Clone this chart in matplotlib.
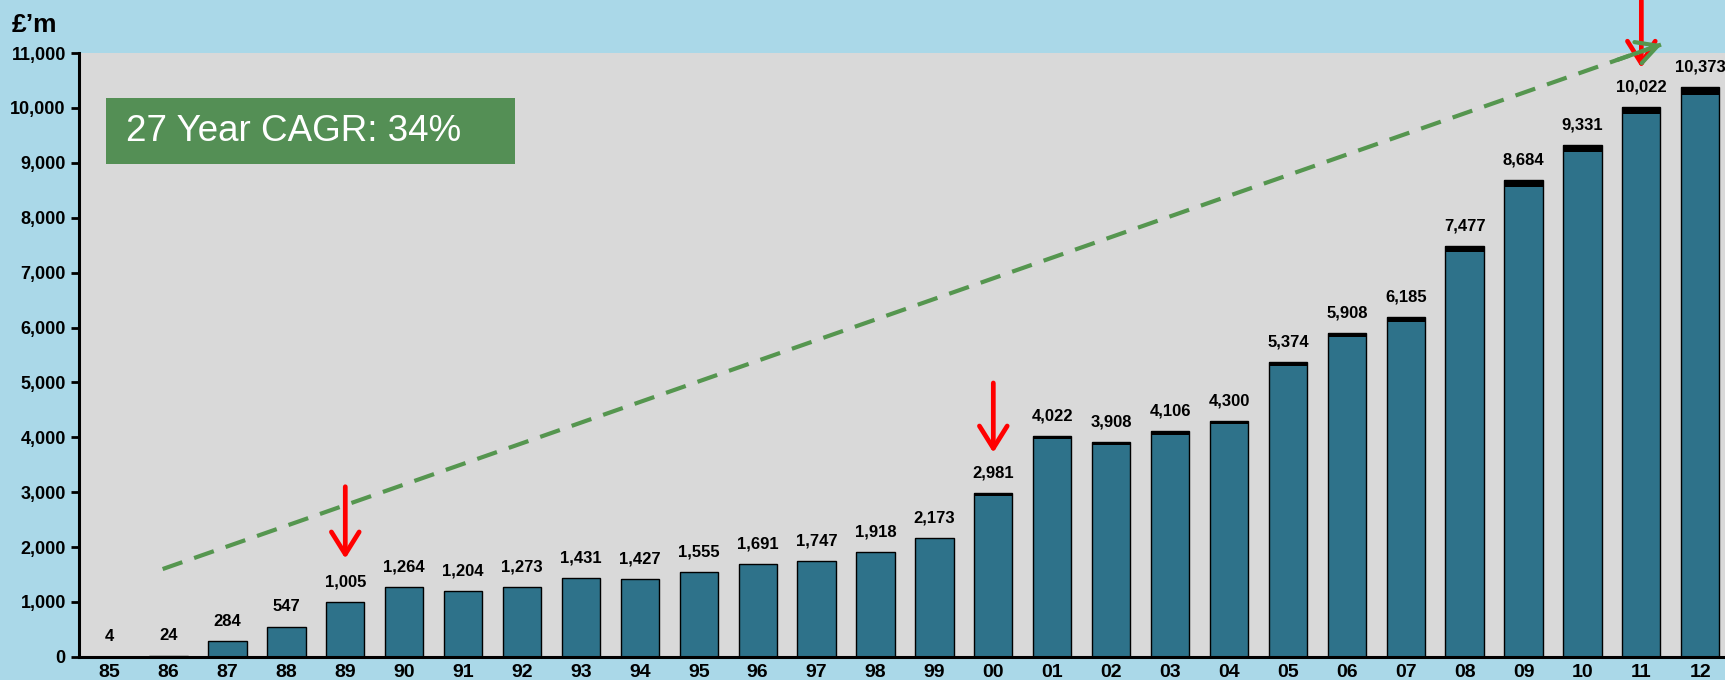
import numpy as np
import matplotlib.pyplot as plt
from matplotlib.ticker import FuncFormatter
from matplotlib.patches import Rectangle

plt.rcParams['font.family'] = ['Liberation Sans', 'DejaVu Sans']

years = ['85', '86', '87', '88', '89', '90', '91', '92', '93', '94', '95', '96', '97', '98',
         '99', '00', '01', '02', '03', '04', '05', '06', '07', '08', '09', '10', '11', '12']
values = [4, 24, 284, 547, 1005, 1264, 1204, 1273, 1431, 1427, 1555, 1691, 1747, 1918,
          2173, 2981, 4022, 3908, 4106, 4300, 5374, 5908, 6185, 7477, 8684, 9331, 10022, 10373]

# red arrows: (bar index, start y, end y)
red_arrows = [(4, 3100, 1790), (15, 4990, 3720), (26, 11960, 10730)]
# trend line start / end in data units
trend_x = [0.9, 26.35]
trend_y = [1600, 11160]

fig = plt.figure(figsize=(17.25, 6.8), dpi=100)
fig.patch.set_facecolor('#aad8e8')
ax = fig.add_axes([0.0458, 0.034, 0.9542, 0.888])
ax.set_facecolor('#d9d9d9')

x = np.arange(len(years))
bar_color = '#2e728a'
ax.bar(x, values, width=0.65, color=bar_color, edgecolor='black', linewidth=1.0, zorder=2)

# black "cap" on top of each bar
caps = [v * 0.014 for v in values]
ax.bar(x, caps, width=0.65, bottom=[v - c for v, c in zip(values, caps)],
       color='black', linewidth=0, zorder=3)

for xi, v in zip(x, values):
    ax.annotate(f'{v:,}', (xi, v), xytext=(0, 9), textcoords='offset points',
                ha='center', va='bottom', fontsize=12, fontweight='bold', zorder=4)

for xi, y0, y1 in red_arrows:
    ax.annotate('', xy=(xi, y1), xytext=(xi, y0),
                arrowprops=dict(arrowstyle='->,head_length=1.6,head_width=1.0', color='#ff0000',
                                lw=3.4, shrinkA=0, shrinkB=0),
                annotation_clip=False, zorder=6)

# dashed trend line, then a solid open arrow head at its end
green = '#55964f'
ax.plot(trend_x, trend_y, color=green, lw=3, linestyle=(0, (5, 3)), clip_on=False, zorder=7)
dx = trend_x[1] - trend_x[0]
dy = trend_y[1] - trend_y[0]
ax.annotate('', xy=(trend_x[1], trend_y[1]),
            xytext=(trend_x[1] - 0.03 * dx, trend_y[1] - 0.03 * dy),
            arrowprops=dict(arrowstyle='->,head_length=1.5,head_width=0.8', color=green,
                            lw=3, shrinkA=0, shrinkB=0),
            annotation_clip=False, zorder=7)

ax.set_xlim(-0.52, len(years) - 0.58)
ax.set_ylim(0, 11000)
ax.set_yticks(np.arange(0, 11001, 1000))
ax.yaxis.set_major_formatter(FuncFormatter(lambda v, p: f'{int(v):,}'))
ax.set_xticks(x)
ax.set_xticklabels(years)
ax.tick_params(axis='y', labelsize=13, width=2, length=6, direction='out')
ax.tick_params(axis='x', labelsize=14, length=0, pad=5)
for lbl in ax.get_xticklabels() + ax.get_yticklabels():
    lbl.set_fontweight('bold')

for s in ['top', 'right']:
    ax.spines[s].set_visible(False)
ax.spines['left'].set_linewidth(2.2)
ax.spines['bottom'].set_linewidth(2.2)

fig.text(0.007, 0.963, '£’m', fontsize=19, fontweight='bold', ha='left', va='center')

fig.add_artist(Rectangle((0.0614, 0.759), 0.237, 0.097, transform=fig.transFigure,
                         facecolor='#548f55', edgecolor='none', zorder=7))
fig.text(0.073, 0.807, '27 Year CAGR: 34%', fontsize=26.5, color='white',
         ha='left', va='center', zorder=8)

fig.savefig('out.png', dpi=100, facecolor=fig.get_facecolor())
